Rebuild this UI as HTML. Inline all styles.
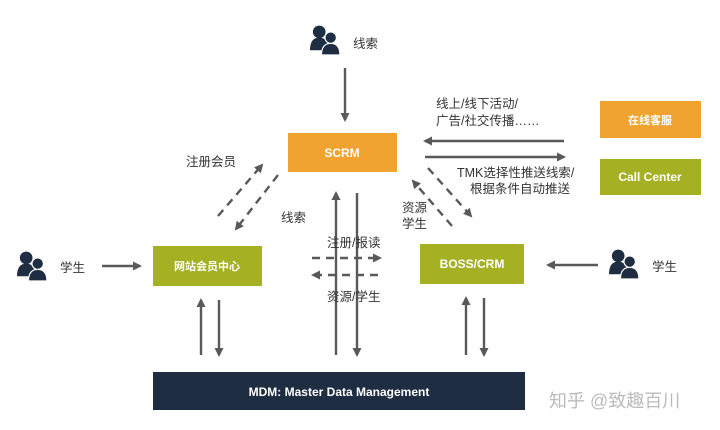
<!DOCTYPE html>
<html><head><meta charset="utf-8"><style>
body{margin:0;background:#fff;width:720px;height:430px;overflow:hidden}
svg{display:block}
text{font-family:"Liberation Sans","Noto Sans CJK SC",sans-serif}
</style></head><body>
<svg width="720" height="430" viewBox="0 0 720 430">
<defs>
<marker id="a" markerWidth="9" markerHeight="9" refX="7" refY="4.5" orient="auto" markerUnits="userSpaceOnUse">
<path d="M0,0 L9,4.5 L0,9 z" fill="#595959"/></marker>
<g id="p"><circle cx="8" cy="6" r="5.5" fill="#1f2d42"/><path d="M0,22 Q0,11 8,11 Q16,11 16,22 z" fill="#1f2d42"/>
<circle cx="18" cy="11" r="5" fill="#1f2d42" stroke="#fff" stroke-width="1"/><path d="M10,26 Q10,16 18,16 Q26,16 26,26 z" fill="#1f2d42" stroke="#fff" stroke-width="1"/></g>
</defs>
<g stroke="#595959" stroke-width="2.4" fill="none" marker-end="url(#a)">
<line x1="345" y1="68" x2="345" y2="120"/>
<line x1="564" y1="141" x2="425" y2="141"/>
<line x1="425" y1="157" x2="564" y2="157"/>
<line x1="336" y1="355" x2="336" y2="193"/>
<line x1="357" y1="193" x2="357" y2="355"/>
<line x1="201" y1="355" x2="201" y2="300"/>
<line x1="219" y1="300" x2="219" y2="355"/>
<line x1="466" y1="355" x2="466" y2="298"/>
<line x1="484" y1="298" x2="484" y2="355"/>
<line x1="102" y1="266" x2="140" y2="266"/>
<line x1="598" y1="265" x2="548" y2="265"/>
<g stroke-dasharray="8,6">
<line x1="218" y1="216" x2="262" y2="165"/>
<line x1="278" y1="175" x2="236" y2="229"/>
<line x1="428" y1="168" x2="471" y2="216"/>
<line x1="452" y1="226" x2="413" y2="181"/>
<line x1="312" y1="258" x2="380" y2="258"/>
<line x1="378" y1="275" x2="313" y2="275"/>
</g></g>
<rect x="288" y="133" width="109" height="39" fill="#f0a32f"/>
<text x="342" y="157" font-size="12" font-weight="bold" fill="#fff" text-anchor="middle">SCRM</text>
<rect x="153" y="246" width="109" height="40" fill="#a5b022"/>
<text x="207" y="270" font-size="11" font-weight="bold" fill="#fff" text-anchor="middle">网站会员中心</text>
<rect x="420" y="244" width="104" height="40" fill="#a5b022"/>
<text x="472" y="268" font-size="12" font-weight="bold" fill="#fff" text-anchor="middle">BOSS/CRM</text>
<rect x="600" y="101" width="101" height="37" fill="#f0a32f"/>
<text x="650" y="124" font-size="11" font-weight="bold" fill="#fff" text-anchor="middle">在线客服</text>
<rect x="600" y="159" width="101" height="36" fill="#a5b022"/>
<text x="650" y="181" font-size="12" font-weight="bold" fill="#fff" text-anchor="middle">Call Center</text>
<rect x="153" y="372" width="372" height="38" fill="#1f2d42"/>
<text x="339" y="396" font-size="12" font-weight="bold" fill="#fff" text-anchor="middle">MDM: Master Data Management</text>
<use href="#p" transform="translate(310,25) scale(1.15)"/><text x="353" y="48" font-size="12.5" fill="#333">线索</text>
<use href="#p" transform="translate(17,251) scale(1.15)"/><text x="60" y="272" font-size="12.5" fill="#333">学生</text>
<use href="#p" transform="translate(609,249) scale(1.15)"/><text x="652" y="271" font-size="12.5" fill="#333">学生</text>
<g font-size="12.5" fill="#333">
<text x="436" y="108">线上/线下活动/</text>
<text x="436" y="125">广告/社交传播……</text>
<text x="457" y="177">TMK选择性推送线索/</text>
<text x="470" y="193">根据条件自动推送</text>
<text x="186" y="166">注册会员</text>
<text x="281" y="222">线索</text>
<text x="402" y="212">资源</text>
<text x="402" y="228">学生</text>
<text x="327" y="247">注册/报读</text>
<text x="327" y="301">资源/学生</text>
</g>
<text x="549" y="407" font-size="18" fill="#bbbbbb">知乎 @致趣百川</text>
</svg>
</body></html>
